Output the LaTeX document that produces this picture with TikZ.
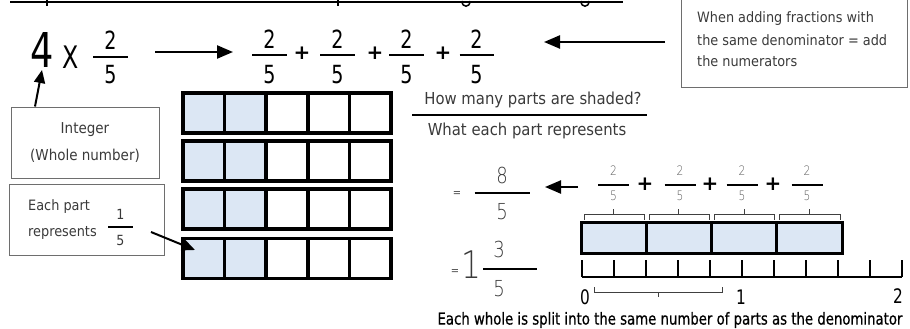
\documentclass[tikz,border=0pt]{standalone}
\usepackage{fontspec}
\usepackage{graphicx}
\usetikzlibrary{arrows.meta}
\newfontfamily\hand{DejaVuSans-ExtraLight.ttf}[FakeStretch=0.82]
\newfontfamily\handtxt{DejaVuSansCondensed.ttf}
\newfontfamily\handreg{DejaVuSansCondensed.ttf}[FakeStretch=0.85]
\newfontfamily\handbot{DejaVuSansCondensed.ttf}[FakeStretch=0.895,FakeBold=0.6]
\newfontfamily\handbold{DejaVuSans-Bold.ttf}
\definecolor{shade}{HTML}{DCE7F4}
\definecolor{ink}{HTML}{3A3A3A}
\definecolor{boxline}{HTML}{6E6E6E}
\newcommand\myfr[9]{%
  \node[#7] (#1n) at (#2,#3-#5) {#8};
  \node[#7] (#1d) at (#2,#3+#6) {#9};
  \draw[fbar] (#2-#4,#3) -- (#2+#4,#3);
}
\begin{document}
\begin{tikzpicture}[x=1pt,y=-1pt,
  txt/.style={inner sep=0, text=ink, font=\handtxt\fontsize{14.3}{21}\selectfont},
  midtxt/.style={inner sep=0, text=ink, font=\handtxt\fontsize{16.5}{20}\selectfont},
  bigdig/.style={inner sep=0, font=\handreg\fontsize{25}{28}\selectfont},
  meddig/.style={inner sep=0, text=ink, font=\hand\fontsize{22}{24}\selectfont},
  smalldig/.style={inner sep=0, text=black!65, font=\hand\fontsize{13}{14}\selectfont},
  tinydig/.style={inner sep=0, text=ink, font=\handtxt\fontsize{14}{16}\selectfont},
  eqs/.style={inner sep=0, text=black!70, font=\handtxt\fontsize{11}{12}\selectfont},
  plussign/.style={inner sep=0, font=\handbold\fontsize{20}{22}\selectfont},
  axislab/.style={inner sep=0, font=\handreg\fontsize{20}{22}\selectfont},
  bot/.style={inner sep=0, font=\handbot\fontsize{16.5}{18}\selectfont},
  cellbox/.style={draw, line width=3.5pt, minimum width=41.6pt, minimum height=40pt, inner sep=0, outer sep=0},
  barbox/.style={draw, line width=3pt, fill=shade, minimum width=65.25pt, minimum height=31pt, inner sep=0, outer sep=0},
  note/.style={draw=boxline, line width=1pt, inner sep=0},
  fbar/.style={line width=2pt},
  arr/.style={line width=2.3pt, -{Triangle[length=16pt,width=13pt]}},
  arrs/.style={line width=2pt, -{Triangle[length=13pt,width=11pt]}},
  brace/.style={line width=0.9pt, black!75}
]
\useasboundingbox (0,0) rectangle (910,329);
\clip (0,0) rectangle (910,329);

% cut-off title underline
\draw[line width=2pt] (10,2) -- (623,2);
\draw[line width=1.5pt] (47,0) -- (47,6) (338,0) -- (338,6);
\draw[line width=1.5pt] (462,1) .. controls (462,8) and (470,8) .. (470,1);
\draw[line width=1.5pt] (581,1) .. controls (581,8) and (589,8) .. (589,1);

% top-right note
\node[note, minimum width=226pt, minimum height=100pt, anchor=south west] (rulebox) at (681,88) {};
\node[txt, anchor=west] (rule1) at (697,19) {When adding fractions with};
\node[txt, anchor=west] (rule2) at (697,40) {the same denominator = add};
\node[txt, anchor=west] (rule3) at (697,61) {the numerators};

% 4 x 2/5
\node[inner sep=0, font=\handreg\fontsize{48}{50}\selectfont] (four) at (42,50) {4};
\node[inner sep=0, font=\handreg\fontsize{31}{33}\selectfont] (times) at (71,57) {X};
\myfr{fa}{110.5}{57}{17.5}{17}{18}{bigdig}{2}{5}

% repeated addition
\myfr{fb}{269.5}{55}{17.5}{16}{20}{bigdig}{2}{5}
\myfr{fc}{337.5}{55}{17.5}{16}{20}{bigdig}{2}{5}
\myfr{fd}{406.5}{55}{17.5}{16}{20}{bigdig}{2}{5}
\myfr{fe}{476.5}{55}{17}{16}{20}{bigdig}{2}{5}
\node[plussign] (p1) at (302,53) {+};
\node[plussign] (p2) at (375,53) {+};
\node[plussign] (p3) at (443,53) {+};

\coordinate (a1s) at (155,52);
\coordinate (a1e) at (233,52);
\draw[arr] (a1s) -- (a1e);
\coordinate (a2s) at (665,42);
\coordinate (a2e) at (544,42);
\draw[arr] (a2s) -- (a2e);

% labels under the sum
\node[midtxt] (howmany) at (533,100) {How many parts are shaded?};
\draw[line width=2pt] (412,115) -- (647,115);
\node[midtxt] (whateach) at (527,131) {What each part represents};

% integer box
\node[note, minimum width=148pt, minimum height=71pt, align=center, txt,
      font=\handtxt\fontsize{15}{27}\selectfont] (intbox) at (85,142.5) {Integer\\(Whole number)};
\coordinate (foot) at (42,70);
\draw[arrs] ([xshift=-50pt]intbox.north) -- (foot);

% each part box
\node[note, minimum width=155pt, minimum height=71pt] (eachbox) at (86.5,219.5) {};
\node[txt, anchor=west] (each1) at (28,207) {Each part};
\node[txt, anchor=west] (each2) at (28,233) {represents};
\myfr{fg}{120.5}{227}{12.5}{13}{13}{tinydig}{1}{5}
\coordinate (eachs) at (151,232);
\coordinate (eache) at (195,250);

% grid of 4 x 5 cells
\foreach \r/\y in {1/113,2/161,3/209,4/258.5}{
  \foreach \c/\f in {1/shade,2/shade,3/white,4/white,5/white}{
    \node[cellbox, fill=\f] (g\r\c) at ({183+41.6*(\c-0.5)},\y) {};
  }
}
\draw[arrs] (eachs) -- (eache);

% = 8/5
\node[eqs] (eq1) at (457,194) {=};
\myfr{fh}{502}{193}{27.5}{18}{19}{meddig}{8}{5}
\coordinate (a3s) at (578,187);
\coordinate (a3e) at (545,187);
\draw[arr] (a3s) -- (a3e);

% = 1 3/5
\node[eqs] (eq2) at (455,272) {=};
\node[inner sep=0, text=ink, font=\hand\fontsize{38}{40}\selectfont] (one) at (471,265) {1};
\node[meddig] (thr) at (499,249) {3};
\node[meddig] (fiv) at (499,289) {5};
\draw[fbar] (483,269) -- (537,269);

% small fractions over the bar model
\myfr{s1}{613.6}{185}{15.5}{14}{11}{smalldig}{2}{5}
\myfr{s2}{680}{185}{15.5}{14}{11}{smalldig}{2}{5}
\myfr{s3}{742}{185}{15.5}{14}{11}{smalldig}{2}{5}
\myfr{s4}{807}{185}{15.5}{14}{11}{smalldig}{2}{5}
\node[plussign] (q1) at (645,184) {+};
\node[plussign] (q2) at (710,184) {+};
\node[plussign] (q3) at (773,184) {+};

% bar model
\foreach \j in {1,...,4}{
  \node[barbox] (b\j) at ({581+65.25*(\j-0.5)},237.5) {};
  \pgfmathsetmacro\bl{581+65.25*(\j-1)+3}
  \pgfmathsetmacro\br{581+65.25*\j-2}
  \pgfmathsetmacro\bc{581+65.25*(\j-0.5)}
  \draw[brace] (\bl,220) -- (\bl,214) -- (\br,214) -- (\br,220) (\bc,214) -- (\bc,209);
}

% number line
\foreach \i in {0,...,10}{
  \coordinate (t\i) at ({582+32*\i},277);
  \draw[line width=1.4pt] (t\i) -- ++(0,-17);
}
\draw[line width=1.4pt] (t0) -- (t10);
\node[axislab] (n0) at (585,297) {0};
\node[axislab] (n1) at (741,297) {1};
\node[axislab] (n2) at (898,296) {2};
\draw[brace] (594,287) -- (594,292) -- (722,292) -- (722,287) (658,292) -- (658,297);

\node[bot] (bottom) at (670,320) {Each whole is split into the same number of parts as the denominator};
\end{tikzpicture}
\end{document}
